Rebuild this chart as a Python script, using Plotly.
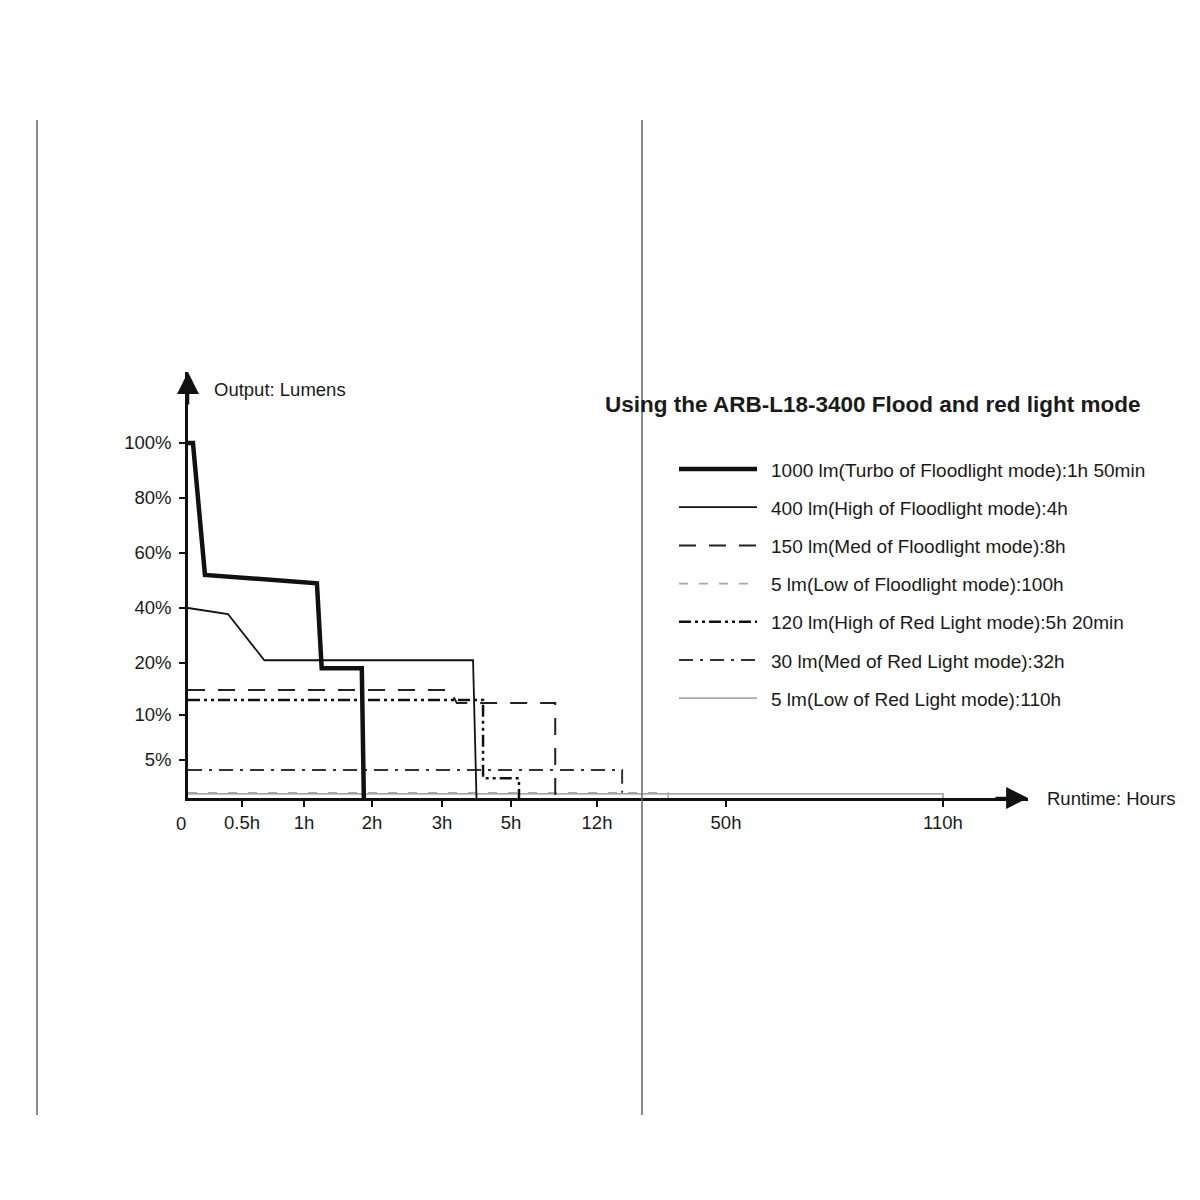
import numpy as np
import plotly.graph_objects as go

# axis ticks - the original chart uses an uneven scale on both axes
x_tick_hours = [0, 0.5, 1, 2, 3, 5, 12, 50, 110]
x_tick_labels = ["0", "0.5h", "1h", "2h", "3h", "5h", "12h", "50h", "110h"]
y_tick_pct = [0, 5, 10, 20, 40, 60, 80, 100]
y_tick_labels = ["", "5%", "10%", "20%", "40%", "60%", "80%", "100%"]

# runtime (hours) / output (percent)
turbo_h = [0, 0.046, 0.157, 1.19, 1.26, 1.85, 1.88]
turbo_p = [100, 100, 52, 49, 19, 19, 0]
high_h = [0, 0.37, 0.68, 3.9, 4.0]
high_p = [40, 37.8, 21, 21, 0]
med_h = [0, 3.23, 3.43, 8.6, 8.6]
med_p = [14.8, 14.8, 12.3, 12.3, 0]
low_h = [0, 33, 33]
low_p = [0.7, 0.7, 0]
red_high_h = [0, 4.19, 4.19, 5.65, 5.65]
red_high_p = [12.9, 12.9, 2.6, 2.6, 0]
red_med_h = [0, 19.4, 19.4]
red_med_p = [3.7, 3.7, 0.7]
red_low_h = [0, 110.5, 110.5]
red_low_p = [0.55, 0.55, 0]

names = [
    "1000 lm(Turbo of Floodlight mode):1h 50min",
    "400 lm(High of Floodlight mode):4h",
    "150 lm(Med of Floodlight mode):8h",
    "5 lm(Low of Floodlight mode):100h",
    "120 lm(High of Red Light mode):5h 20min",
    "30 lm(Med of Red Light mode):32h",
    "5 lm(Low of Red Light mode):110h",
]

# where each tick sits along the axes (px from the axis origin)
X_POS = [0, 54, 116, 184, 254, 323, 409, 538, 755]
Y_POS = [0, 38, 83, 135, 190, 245, 300, 355]
W, H = 840, 426           # plot area size
OFF = 8                   # page body margin
L, B = 188 - OFF, 798 - OFF  # axis origin in figure px


def sx(h):
    return np.interp(h, x_tick_hours, X_POS)


def sy(p):
    return np.interp(p, y_tick_pct, Y_POS)


def px(x):  # page pixel -> paper
    return (x - OFF - L) / W


def py(y):
    return (B - (y - OFF)) / H


series = [
    (turbo_h, turbo_p, dict(color="#111", width=4.5, dash="solid")),
    (high_h, high_p, dict(color="#111", width=1.8, dash="solid")),
    (med_h, med_p, dict(color="#222", width=2, dash="17px,13px")),
    (low_h, low_p, dict(color="#a8a8a8", width=1.6, dash="9px,11px")),
    (red_high_h, red_high_p, dict(color="#111", width=2.5, dash="12px,4px,3px,4px,3px,4px")),
    (red_med_h, red_med_p, dict(color="#333", width=2, dash="14px,7px,3px,7px")),
    (red_low_h, red_low_p, dict(color="#8a8a8a", width=1.3, dash="solid")),
]

fig = go.Figure()
# light ones first so the heavy lines end up on top
for i in [6, 3, 5, 2, 4, 1, 0]:
    h, p, ln = series[i]
    fig.add_trace(go.Scatter(x=sx(h), y=sy(p), mode="lines", line=ln,
                             name=names[i], showlegend=False, hoverinfo="skip"))

font = dict(family="Liberation Sans, Arial, sans-serif", color="#1a1a1a")
shapes = []
annotations = []

# hand drawn legend (long line samples like the original)
for i, (h, p, ln) in enumerate(series):
    ypix = 469 + i * 38.2
    shapes.append(dict(type="line", xref="paper", yref="paper", x0=px(679), x1=px(757),
                       y0=py(ypix), y1=py(ypix), line=ln))
    annotations.append(dict(x=px(769), y=py(ypix + 1), xref="paper", yref="paper",
                            text=names[i], showarrow=False, xanchor="left",
                            yanchor="middle", font=dict(size=19, **font)))

# scanner artefacts: two grey vertical rules
for xp in [37, 642]:
    shapes.append(dict(type="line", xref="paper", yref="paper",
                       x0=px(xp), x1=px(xp), y0=py(120), y1=py(1115),
                       line=dict(color="#666", width=1.5)))


def label(x, y, text, size=18.5, anchor="center"):
    return dict(x=px(x), y=py(y), xref="paper", yref="paper", showarrow=False,
                xanchor=anchor, yanchor="middle", text=text,
                font=dict(size=size, **font))


annotations += [
    label(872, 404, "<b>Using the ARB-L18-3400 Flood and red light mode</b>", size=22.5),
    label(212, 389, "Output: Lumens", anchor="left"),
    label(1045, 798, "Runtime: Hours", anchor="left"),
    label(181, 823, "0"),
    # arrow heads
    dict(x=1, y=0, xref="paper", yref="paper", ax=-34, ay=0, text="", showarrow=True,
         arrowhead=2, arrowsize=1.75, arrowwidth=2.5, arrowcolor="#111"),
    dict(x=0, y=1, xref="paper", yref="paper", ax=0, ay=34, text="", showarrow=True,
         arrowhead=2, arrowsize=1.75, arrowwidth=2.5, arrowcolor="#111"),
]

axis_common = dict(showline=True, linewidth=2.5, linecolor="#111", ticks="outside",
                   ticklen=6, tickwidth=2, tickcolor="#111", showgrid=False,
                   zeroline=False, tickfont=dict(size=18.5, **font), fixedrange=True)

fig.update_layout(
    width=1200, height=1200, autosize=False,
    margin=dict(l=L, r=1200 - L - W, t=B - H, b=1200 - B),
    paper_bgcolor="white", plot_bgcolor="white",
    xaxis=dict(range=[0, W], tickvals=X_POS[1:], ticktext=x_tick_labels[1:], **axis_common),
    yaxis=dict(range=[0, H], tickvals=Y_POS[1:], ticktext=y_tick_labels[1:],
               ticklabelstandoff=4, **axis_common),
    shapes=shapes, annotations=annotations,
)

fig.write_html("out.html")
